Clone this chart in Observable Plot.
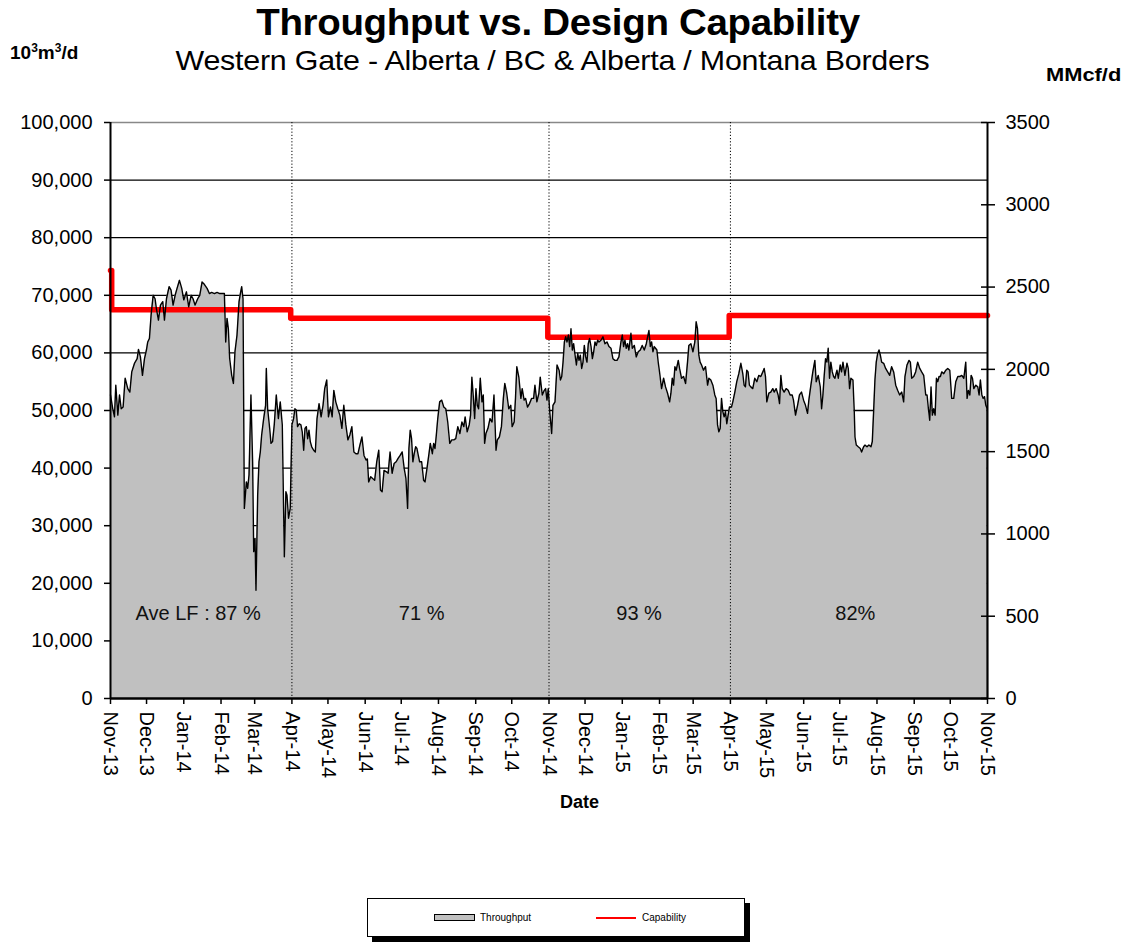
<!DOCTYPE html>
<html>
<head>
<meta charset="utf-8">
<script src="https://cdn.jsdelivr.net/npm/d3@7"></script>
<script src="https://cdn.jsdelivr.net/npm/@observablehq/plot@0.6"></script>
<style>
  body { margin: 0; background: #fff; font-family: "Liberation Sans", Arial, sans-serif; }
  #wrap { position: relative; width: 1136px; height: 942px; overflow: hidden; }
  #chart { position: absolute; left: 0; top: 0; }
  .abs { position: absolute; white-space: nowrap; color: #000; }
  #title { left: 0; width: 1116px; text-align: center; top: 2px; font-size: 37px; font-weight: bold; letter-spacing: -0.3px; transform: scaleX(1.04); transform-origin: 558px 0; }
  #subtitle { left: 0; width: 1105px; text-align: center; top: 45px; font-size: 28px; letter-spacing: -0.2px; transform: scaleX(1.085); transform-origin: 552px 0; }
  #unitL { left: 10px; top: 41px; font-size: 19px; font-weight: bold; }
  #unitR { left: 1046px; top: 64px; font-size: 19px; font-weight: bold; transform: scaleX(1.15); transform-origin: 0 0; }
  #xlab { left: 560px; top: 792px; font-size: 18px; font-weight: bold; }
  #legend { left: 367px; top: 898px; width: 376px; height: 37px; border: 1px solid #000; background: #fff; box-shadow: 5px 5px 0 #000; }
  .lg { position: absolute; font-size: 10px; top: 13px; }
</style>
</head>
<body>
<div id="wrap">
  <div id="chart"></div>
  <div class="abs" id="title">Throughput vs. Design Capability</div>
  <div class="abs" id="subtitle">Western Gate - Alberta / BC &amp; Alberta / Montana Borders</div>
  <div class="abs" id="unitL">10<sup style="font-size:12px">3</sup>m<sup style="font-size:12px">3</sup>/d</div>
  <div class="abs" id="unitR">MMcf/d</div>
  <div class="abs" id="xlab">Date</div>
  <div class="abs" id="legend">
    <div style="position:absolute;left:66px;top:15px;width:39px;height:5px;background:#c0c0c0;border:1px solid #000;"></div>
    <div class="lg" style="left:112px;">Throughput</div>
    <div style="position:absolute;left:228px;top:18px;width:40px;height:2px;background:#ff0000;"></div>
    <div class="lg" style="left:274px;">Capability</div>
  </div>
</div>
<script>
// ---- Data ----
const startDate = "2013-11-01";
const endDate = "2015-11-01";

// Throughput readings: [days since 2013-11-01, thousand 10^3 m^3/d]
const throughputReadings = [
[0,52.7],[1.9,50.3],[3.3,48.9],[4.4,54.4],[6.1,49.2],[7.5,52.7],[8.9,50.3],[10.5,50.6],[12.2,55.6],[14.4,53.8],[16.1,53.2],[17.7,56.7],[20,58.2],[22.2,59],[23.3,60.6],[24.9,59.3],[26.6,56.1],[28.3,59],[29.9,60.5],[31,61.9],[32.4,62.5],[33.8,66.6],[35.5,70],[37.1,69.4],[38.2,67.7],[39.9,65.7],[41.6,68.3],[43.5,68.9],[44.9,65.7],[46.6,69.4],[48.8,71.5],[50.4,70.9],[52.1,68.3],[53.8,70],[55.4,71.2],[57.4,72.6],[59.3,71.2],[61,69.2],[63.2,70.6],[65.1,68],[67.1,70],[68.7,69.4],[70.4,68.3],[72.6,69.4],[74.3,70],[76.2,72.3],[78.1,71.9],[80.4,71.2],[82.3,70.3],[84.2,70.5],[86.5,70.3],[88.7,70.5],[90.9,70.3],[93.4,70.3],[94.8,70.3],[95.9,61.9],[97,66],[98.1,64.2],[99.2,59],[100.9,56.1],[102.3,54.7],[103.6,60.2],[105.3,63.1],[107,68.9],[108.1,70.3],[109.2,71.5],[110.3,69.4],[111.4,33],[113.1,37.6],[114.2,36.5],[115.3,38.8],[116.9,52.7],[118.3,41.1],[119.2,25.5],[120.3,27.8],[121.1,18.8],[122.5,35.3],[123.6,41.1],[124.7,42.8],[125.8,45.7],[127.5,48.6],[129.1,50.9],[129.7,57.3],[130.8,50.3],[132.5,46.9],[133.6,44.3],[134.9,44.6],[136.3,47.5],[138,52.7],[139.7,48.6],[141.3,51.5],[143,47.5],[144.7,24.6],[146,35.9],[146.9,35.3],[148.2,31.3],[149.6,33],
[151,47.5],[152.4,48.6],[153.5,50.3],[154.6,50.1],[155.7,47.2],[157.1,47.7],[158.5,47.5],[159.6,46.3],[160.8,43.1],[161.9,46.9],[163,47.2],[164.1,45.1],[165.2,46.6],[166.3,44.6],[167.5,43.7],[169.1,43.1],[170.5,42.8],[171.9,48.6],[173.6,51.2],[175.3,48.9],[176.9,50.9],[178.3,53.8],[180,55.3],[181.4,48.9],[183.1,50.6],[184.5,48.9],[185.9,53.5],[187.5,51.5],[189.2,50.3],[190.9,49.2],[192.6,46.9],[194.2,50.9],[195.9,47.5],[197.6,44.9],[199.3,45.8],[200.9,47.2],[202.6,42.8],[204.3,42.5],[206,42.5],[207.6,44],[209.3,45.4],[211,42.2],[212.7,41.4],[213.8,41.6],[214.9,37.6],[216.6,38.5],[218.2,38.2],[219.9,37.9],[221.6,41.1],[223.3,43.1],[224.7,36.2],[226.1,35.9],[227.7,39.6],[229.4,39.4],[231.1,39.1],[232.7,42.8],[234.4,39.1],[236.1,40.8],[237.8,41.1],[239.4,41.7],[241.1,42.2],[242.8,42.8],[244.5,39.9],[245.9,38.2],[247.3,33],[248.4,43.4],[249.5,46.6],[250.6,45.1],[251.7,41.1],[252.8,42.5],[254,43.7],[255.1,43.4],[256.2,42.2],[257.3,41.1],[259,41.1],[260.6,37.9],[261.8,37.6],[263.4,39.9],[265.1,42.5],[266.2,44.3],[267.9,42.5],[269,44.3],[270.1,43.4],[271.2,45.7],[272.4,48.6],[274,51.5],[275.7,51.8],[277.4,50.6],[279.1,50.3],[280.7,48],[282.4,44.3],[284.1,44.9],[285.8,44.9],[287.4,45.1],[289.1,47.2],[290.8,46],[292.5,48],[294.1,47.2],[295.2,48.9],[296.9,46.3],[298.6,47.5],[299.7,49.2],[300.8,55.8],[301.9,52.7],[303.1,48.6],[304.2,53.8],[305.3,50.9],[306.4,50.3],[307.8,55.6],[309.2,51.5],[310.3,52.7],[311.4,44.3],[312.5,46],[314.2,46.9],[315.9,48.6],[317.6,48],[319.2,52.7],[320.9,43.1],[322,44.9],[323.7,45.4],[325.4,47.2],[327,52.1],[328.2,54.7],[329.8,53],[331.5,50.3],[333.2,50.9],[334.3,47.2],[336,48],[337.1,52.1],[338.2,57.6],[339.9,55.8],[341.6,52.1],[342.7,53.8],[344.3,51.8],[345.5,52.1],[347.1,50.6],[348.8,51.2],[350.5,52.1],[352.2,52.1],[353.3,54.4],[354.9,51.5],[356.6,53],[357.7,55.8],[359.4,52.7],[361.1,53.5],[362.2,53.8],[363.3,51.8],[364.4,53.8],[365.6,49.8],[367.2,46],[368.3,50.9],[370,51.5],[371.7,57.9],[373.4,57],
[374.5,55.3],[375.6,55.9],[376.7,58.4],[377.8,61.9],[378.9,62.8],[380,61.9],[381.1,63.1],[382.2,61.1],[383.3,64.2],[384.4,60.5],[385.5,61.6],[386.7,59.6],[387.8,57.9],[388.9,59.9],[390,58.7],[391.1,59.6],[392.2,57.3],[393.3,58.4],[394.4,61.3],[395.5,59.3],[396.6,58.4],[397.7,61.6],[398.8,62.5],[400,61.1],[401.1,59],[402.2,60.2],[403.3,61.9],[404.4,61.3],[405.5,62.2],[406.6,61.9],[408.3,62.2],[409.9,62.8],[411.6,61.6],[413.3,61.9],[414.9,61.1],[416.6,60.8],[418.2,59],[419.9,58.7],[421.6,58.7],[423.2,59.3],[424.9,61.9],[426,63.1],[427.1,61.1],[428.2,62.2],[429.3,60.8],[430.4,61.6],[431.5,60.5],[433.2,63.4],[434.3,60.8],[436,61.3],[437.6,59.3],[439.3,60.2],[441,60.5],[442.6,61.3],[444.3,60.5],[446,61.6],[447.1,62.8],[448.2,63.9],[449.3,61.1],[450.4,61.9],[451.5,60.2],[452.6,61.1],[453.7,60.8],[454.8,60.5],[455.9,58.4],[457,56.7],[458.7,53.8],[460.4,55.6],[462,54.1],[463.7,53],[465.4,51.5],[466.5,53],[467.6,55.6],[468.7,54.4],[469.8,57.6],[470.9,57],[472.6,58.7],[473.7,57.3],[475.3,55.6],[477,55.9],[478.7,54.7],[480.3,58.4],[481.4,61.3],[483.1,61.6],[484.8,60.2],[486.4,61.9],[487.5,65.4],[488.6,64.2],[489.7,59.6],[490.8,58.4],[492,57.9],[493.6,57],[495.3,57.6],[497,54.4],[498.1,55.6],[499.7,55.3],[501.4,54.4],[503,52.7],[504.1,52.1],[505.3,47.5],[506.4,46.3],[507.5,46.9],[508.6,52.1],[509.7,49.8],[510.8,48.9],[511.9,49.8],[513,47.7],[514.1,49.2],[515.2,50.6],[516.9,50.6],[518,51.5],[519.7,53.2],[521.3,55],[523,56.4],[524.7,58.2],
[526.3,56.4],[527.4,54.4],[528.5,54.1],[529.6,57],[530.7,56.7],[531.8,54.4],[533,54.1],[534.6,53.8],[536.3,55.6],[538,55],[539.6,56.1],[541.3,55.9],[543,56.7],[544.1,57.3],[545.2,55.9],[546.3,51.5],[548,53],[549.6,53.2],[551.3,53.8],[552.4,53.2],[554.1,53.8],[555.7,52.7],[556.9,51.2],[558,56.1],[559.1,53.8],[560.7,53.2],[562.4,53.8],[564.1,53.5],[565.7,52.7],[567.4,52.7],[568.5,51.8],[570.2,49.2],[571.9,50.9],[573.5,52.7],[575.2,53.2],[576.9,51.8],[578.5,50.9],[580.2,49.5],[581.3,51.8],[583,54.4],[584.6,56.7],[586.3,58.7],[587.4,55],[589.1,56.1],[590.8,54.1],[591.9,50.3],[593,52.7],[594.1,56.1],[595.2,59],[596.3,58.4],[597.4,60.8],[598.5,55.6],[599.6,58.4],[600.8,56.7],[601.9,55.9],[603,55.6],[604.7,57],[605.8,55.6],[607.4,57.9],[608.5,56.7],[609.7,58.4],[611.3,56.1],[613,58.2],[614.1,57.3],[615.2,53.8],[616.3,55.6],[618,55.3],[619.1,49.8],[619.7,45.4],[620.8,44],[622.4,43.7],[624.1,43.4],[625.2,42.8],[626.9,43.7],[628,44],[629.7,43.7],[631.3,44],[633,43.7],[634.1,44.6],[635.2,49.8],[636.3,55.3],[637.4,58.4],[638.6,59.9],[639.7,60.5],[640.8,59.6],[641.9,58.4],[643.6,58.2],[645.2,57.3],[646.9,56.7],[648.6,56.1],[650.2,57.6],[651.9,56.7],[653.6,54.4],[655.2,53.5],[656.9,52.7],[658.6,53.2],[660.2,51.5],[661.3,55.9],[663,57.9],[664.7,58.7],[665.8,58.4],[666.9,55.6],[668.6,55.9],[670.2,56.7],[671.9,58.4],[673.6,57.3],[675.2,56.7],[676.9,56.1],[678.6,52.7],[679.7,52.7],[680.8,50.3],[681.9,48.3],[683,54.1],[684.1,49.2],[685.2,50.3],[686.4,49.2],[687.5,55.6],[688.6,55],[689.7,55.9],[690.8,55.9],[691.9,56.7],[693.6,56.4],[695.3,57],[696.9,57.3],[698.6,57],[700.2,52.1],[701.9,52.1],[703.6,55],[705.3,55.9],[706.9,55.9],[708.6,56.1],[710.3,55.6],[711.9,58.4],[713,52.1],[714.1,53.5],[715.3,52.7],[716.4,56.1],[717.5,55.6],[718.6,53.8],[720.3,54.4],[721.9,54.1],[723,52.7],[724.1,55.3],[725.3,52.7],[726.4,52.1],[727.5,52.4],[728.6,50.9],[729.7,50.3],[730,0]
];

// Design capability (10^3 m^3/d), step changes
const capabilityDates  = ["2013-11-01", "2013-11-02", "2014-03-31", "2014-10-31", "2015-03-31", "2015-11-01"];
const capabilityValues = [74300, 67500, 66000, 62700, 66500, 66500];

// Period dividers and average load factor labels
const dividerDates = ["2014-04-01", "2014-11-01", "2015-04-01"];
const lfLabelDates = ["2014-01-13", "2014-07-18", "2015-01-15", "2015-07-14"];
const lfLabelTexts = ["Ave LF : 87 %", "71 %", "93 %", "82%"];
const lfLabelLevel = 14800;

// Axis ticks
const leftTicks = [0, 10000, 20000, 30000, 40000, 50000, 60000, 70000, 80000, 90000, 100000];
const rightTicks = [0, 500, 1000, 1500, 2000, 2500, 3000, 3500]; // MMcf/d
const rightMax = 3500, leftMax = 100000;

// ---- Build ----
const t0 = new Date(startDate + "T00:00:00Z");
const t1 = new Date(endDate + "T00:00:00Z");
const throughput = throughputReadings.map(([d, v]) => ({date: new Date(+t0 + d * 864e5), value: v * 1000}));
const capability = capabilityDates.map((d, i) => ({date: new Date(d + "T00:00:00Z"), value: capabilityValues[i]}));
const dividers = dividerDates.map(d => new Date(d + "T00:00:00Z"));
const lfLabels = lfLabelDates.map((d, i) => ({date: new Date(d + "T00:00:00Z"), value: lfLabelLevel, text: lfLabelTexts[i]}));
const rightTickPos = rightTicks.map(v => v * leftMax / rightMax);
const monthTicks = d3.utcMonth.range(t0, new Date(+t1 + 1));

const chart = Plot.plot({
  width: 1136,
  height: 860,
  marginLeft: 110,
  marginRight: 149,
  marginTop: 122,
  marginBottom: 162,
  style: {fontFamily: '"Liberation Sans", Arial, sans-serif', fontSize: "20px", color: "#000", background: "transparent"},
  x: {type: "utc", domain: [t0, t1]},
  y: {domain: [0, leftMax]},
  marks: [
    Plot.ruleY(leftTicks.filter(v => v > 0 && v < leftMax), {stroke: "#000", strokeWidth: 1.3}),
    Plot.ruleY([leftMax], {stroke: "#888", strokeWidth: 1.5}),
    Plot.areaY(throughput, {x: "date", y: "value", fill: "#c0c0c0"}),
    Plot.ruleX(dividers, {stroke: "#000", strokeWidth: 1, strokeDasharray: "1.2,2"}),
    Plot.line(capability, {x: "date", y: "value", curve: "step-after", stroke: "#ff0000", strokeWidth: 5.5}),
    Plot.lineY(throughput, {x: "date", y: "value", stroke: "#000", strokeWidth: 1.4}),
    Plot.text(lfLabels, {x: "date", y: "value", text: "text", fontSize: 20, fill: "#111"}),
    Plot.ruleX([t0], {stroke: "#000", strokeWidth: 2}),
    Plot.ruleX([t1], {stroke: "#000", strokeWidth: 2}),
    Plot.ruleY([0], {stroke: "#000", strokeWidth: 2.5}),
    Plot.axisY(leftTicks, {anchor: "left", tickSize: 6, tickPadding: 12, tickFormat: d3.format(","), label: null, strokeWidth: 1.5}),
    Plot.axisY(rightTickPos, {anchor: "right", tickSize: 7, tickPadding: 11, tickFormat: d => String(Math.round(d * rightMax / leftMax)), label: null, strokeWidth: 1.5}),
    Plot.axisY(rightTickPos, {anchor: "right", tickSize: 7, dx: -7, tickFormat: () => "", label: null, strokeWidth: 1.5}),
    Plot.axisX(monthTicks, {anchor: "bottom", tickSize: 6, tickPadding: 7, tickRotate: 90, tickFormat: d3.utcFormat("%b-%y"), label: null, strokeWidth: 1.5})
  ]
});
document.getElementById("chart").appendChild(chart);
</script>
</body>
</html>
